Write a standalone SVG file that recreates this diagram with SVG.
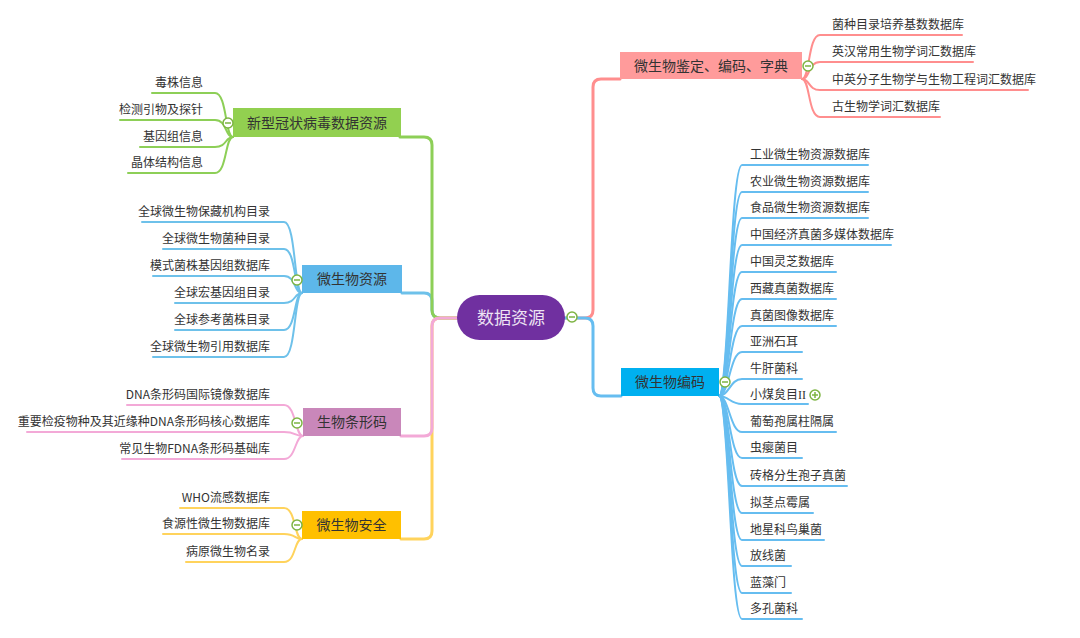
<svg xmlns="http://www.w3.org/2000/svg" width="1080" height="638" viewBox="0 0 1080 638">
<style>
text{font-family:"Noto Sans CJK SC","Noto Sans",sans-serif;fill:#333}
.leaf{font-size:12px}
.lt{font-size:14px;text-anchor:middle}
.e{text-anchor:end}
.ln{fill:none;stroke-linecap:round;stroke-linejoin:round}
.main{stroke-width:3}
.sub{stroke-width:2}
.g{stroke:#8DCF57}.b{stroke:#6EC1EA}.p{stroke:#F3A9D7}.y{stroke:#FFD35C}.r{stroke:#FF8E8E}.c{stroke:#66BDF0}
.tog circle{fill:#fff;stroke:#7DB443;stroke-width:1.5}
.tog path{stroke:#7DB443;stroke-width:1.5}
</style>
<rect width="1080" height="638" fill="#fff"/>
<g id="connectors">
<path class="ln main b" d="M457,318 H440 Q432,318 432,310 V301 Q432,293 424,293 H402"/>
<path class="ln main g" d="M457,318 H440 Q432,318 432,310 V145 Q432,137 424,137 H400"/>
<path class="ln main y" d="M457,318 H440 Q432,318 432,326 V531 Q432,539 424,539 H401"/>
<path class="ln main p" d="M457,318 H440 Q432,318 432,326 V428 Q432,436 424,436 H401"/>
<path class="ln main r" d="M565,318 H585 Q593,318 593,310 V87 Q593,79 601,79 H620"/>
<path class="ln main c" d="M565,318 H585 Q593,318 593,326 V388 Q593,396 601,396 H621"/>
<g class="ln sub g">
<path d="M152,93 H215 C227,93 225,137 233,137"/>
<path d="M120,120 H215 C227,120 225,137 233,137"/>
<path d="M140,147 H215 C227,147 225,137 233,137"/>
<path d="M128,173 H215 C227,173 225,137 233,137"/>
</g>
<g class="ln sub b">
<path d="M142,222 H284 C296,222 294,293 302,293"/>
<path d="M163,249 H284 C296,249 294,293 302,293"/>
<path d="M153,276 H284 C296,276 294,293 302,293"/>
<path d="M175,303 H284 C296,303 294,293 302,293"/>
<path d="M175,330 H284 C296,330 294,293 302,293"/>
<path d="M153,357 H284 C296,357 294,293 302,293"/>
</g>
<g class="ln sub p">
<path d="M127,405 H284 C296,405 295,436 303,436"/>
<path d="M27,432 H284 C296,432 295,436 303,436"/>
<path d="M122,459 H284 C296,459 295,436 303,436"/>
</g>
<g class="ln sub y">
<path d="M180,508 H284 C296,508 294,539 302,539"/>
<path d="M163,534 H284 C296,534 294,539 302,539"/>
<path d="M186,562 H284 C296,562 294,539 302,539"/>
</g>
<g class="ln sub r">
<path d="M802,79 C810,79 808,35 820,35 H962"/>
<path d="M802,79 C810,79 808,62 820,62 H973"/>
<path d="M802,79 C810,79 808,90 820,90 H1028"/>
<path d="M802,79 C810,79 808,117 820,117 H940"/>
</g>
<g class="ln sub c">
<path d="M719,396 C729,396 730,165 742,165 H868"/>
<path d="M719,396 C729,396 730,192 742,192 H868"/>
<path d="M719,396 C729,396 730,218 742,218 H868"/>
<path d="M719,396 C729,396 730,245 742,245 H891"/>
<path d="M719,396 C729,396 730,272 742,272 H836"/>
<path d="M719,396 C729,396 730,299 742,299 H836"/>
<path d="M719,396 C729,396 730,326 742,326 H836"/>
<path d="M719,396 C729,396 730,352 742,352 H802"/>
<path d="M719,396 C729,396 730,379 742,379 H802"/>
<path d="M719,396 C729,396 730,404 742,404 H808"/>
<path d="M719,396 C729,396 730,432 742,432 H836"/>
<path d="M719,396 C729,396 730,458 742,458 H802"/>
<path d="M719,396 C729,396 730,486 742,486 H847"/>
<path d="M719,396 C729,396 730,513 742,513 H813"/>
<path d="M719,396 C729,396 730,540 742,540 H824"/>
<path d="M719,396 C729,396 730,566 742,566 H791"/>
<path d="M719,396 C729,396 730,593 742,593 H791"/>
<path d="M719,396 C729,396 730,619 742,619 H802"/>
</g>
</g>
<g id="center">
<rect x="457" y="295" width="108" height="45" rx="22.5" fill="#7030A0"/>
<text x="511" y="324" style="font-size:17px;text-anchor:middle;fill:#EDE3F3">数据资源</text>
</g>
<g id="node-covid">
<rect x="233" y="108" width="168" height="29" fill="#92D050"/>
<text class="lt" x="317" y="127.5">新型冠状病毒数据资源</text>
<text class="leaf e" x="203" y="87">毒株信息</text>
<text class="leaf e" x="203" y="114">检测引物及探针</text>
<text class="leaf e" x="203" y="141">基因组信息</text>
<text class="leaf e" x="203" y="167">晶体结构信息</text>
</g>
<g id="node-resource">
<rect x="302" y="265" width="100" height="28" fill="#5DB7EA"/>
<text class="lt" x="352" y="284">微生物资源</text>
<text class="leaf e" x="270" y="216">全球微生物保藏机构目录</text>
<text class="leaf e" x="270" y="243">全球微生物菌种目录</text>
<text class="leaf e" x="270" y="270">模式菌株基因组数据库</text>
<text class="leaf e" x="270" y="297">全球宏基因组目录</text>
<text class="leaf e" x="270" y="324">全球参考菌株目录</text>
<text class="leaf e" x="270" y="351">全球微生物引用数据库</text>
</g>
<g id="node-barcode">
<rect x="303" y="408" width="98" height="28" fill="#C987BA"/>
<text class="lt" x="352" y="427">生物条形码</text>
<text class="leaf e" x="270" y="399">DNA条形码国际镜像数据库</text>
<text class="leaf e" x="270" y="426">重要检疫物种及其近缘种DNA条形码核心数据库</text>
<text class="leaf e" x="270" y="453">常见生物FDNA条形码基础库</text>
</g>
<g id="node-safety">
<rect x="302" y="511" width="99" height="28" fill="#FFC000"/>
<text class="lt" x="351.5" y="530">微生物安全</text>
<text class="leaf e" x="270" y="502">WHO流感数据库</text>
<text class="leaf e" x="270" y="528">食源性微生物数据库</text>
<text class="leaf e" x="270" y="556">病原微生物名录</text>
</g>
<g id="node-ident">
<rect x="620" y="52" width="182" height="27" fill="#FF9B9B"/>
<text class="lt" x="711" y="70.5">微生物鉴定、编码、字典</text>
<text class="leaf" x="832" y="29">菌种目录培养基数数据库</text>
<text class="leaf" x="832" y="56">英汉常用生物学词汇数据库</text>
<text class="leaf" x="832" y="84">中英分子生物学与生物工程词汇数据库</text>
<text class="leaf" x="832" y="111">古生物学词汇数据库</text>
</g>
<g id="node-coding">
<rect x="621" y="368" width="98" height="28" fill="#00B0F0"/>
<text class="lt" x="670" y="387">微生物编码</text>
<text class="leaf" x="750" y="159">工业微生物资源数据库</text>
<text class="leaf" x="750" y="186">农业微生物资源数据库</text>
<text class="leaf" x="750" y="212">食品微生物资源数据库</text>
<text class="leaf" x="750" y="239">中国经济真菌多媒体数据库</text>
<text class="leaf" x="750" y="266">中国灵芝数据库</text>
<text class="leaf" x="750" y="293">西藏真菌数据库</text>
<text class="leaf" x="750" y="320">真菌图像数据库</text>
<text class="leaf" x="750" y="346">亚洲石耳</text>
<text class="leaf" x="750" y="373">牛肝菌科</text>
<text class="leaf" x="750" y="399">小煤炱目<tspan style="font-family:'Liberation Serif',serif">II</tspan></text>
<text class="leaf" x="750" y="426">葡萄孢属柱隔属</text>
<text class="leaf" x="750" y="452">虫瘿菌目</text>
<text class="leaf" x="750" y="480">砖格分生孢子真菌</text>
<text class="leaf" x="750" y="507">拟茎点霉属</text>
<text class="leaf" x="750" y="534">地星科鸟巢菌</text>
<text class="leaf" x="750" y="560">放线菌</text>
<text class="leaf" x="750" y="587">蓝藻门</text>
<text class="leaf" x="750" y="613">多孔菌科</text>
</g>
<g id="toggles" class="tog">
<g><circle cx="228" cy="123" r="5"/><path d="M225,123 H231"/></g>
<g><circle cx="297" cy="280" r="5"/><path d="M294,280 H300"/></g>
<g><circle cx="297" cy="423" r="5"/><path d="M294,423 H300"/></g>
<g><circle cx="297" cy="525" r="5"/><path d="M294,525 H300"/></g>
<g><circle cx="572" cy="317" r="5"/><path d="M569,317 H575"/></g>
<g><circle cx="808" cy="66" r="5"/><path d="M805,66 H811"/></g>
<g><circle cx="725" cy="382" r="5"/><path d="M722,382 H728"/></g>
<g><circle cx="815" cy="395" r="5"/><path d="M812,395 H818 M815,392 V398"/></g>
</g>
</svg>
